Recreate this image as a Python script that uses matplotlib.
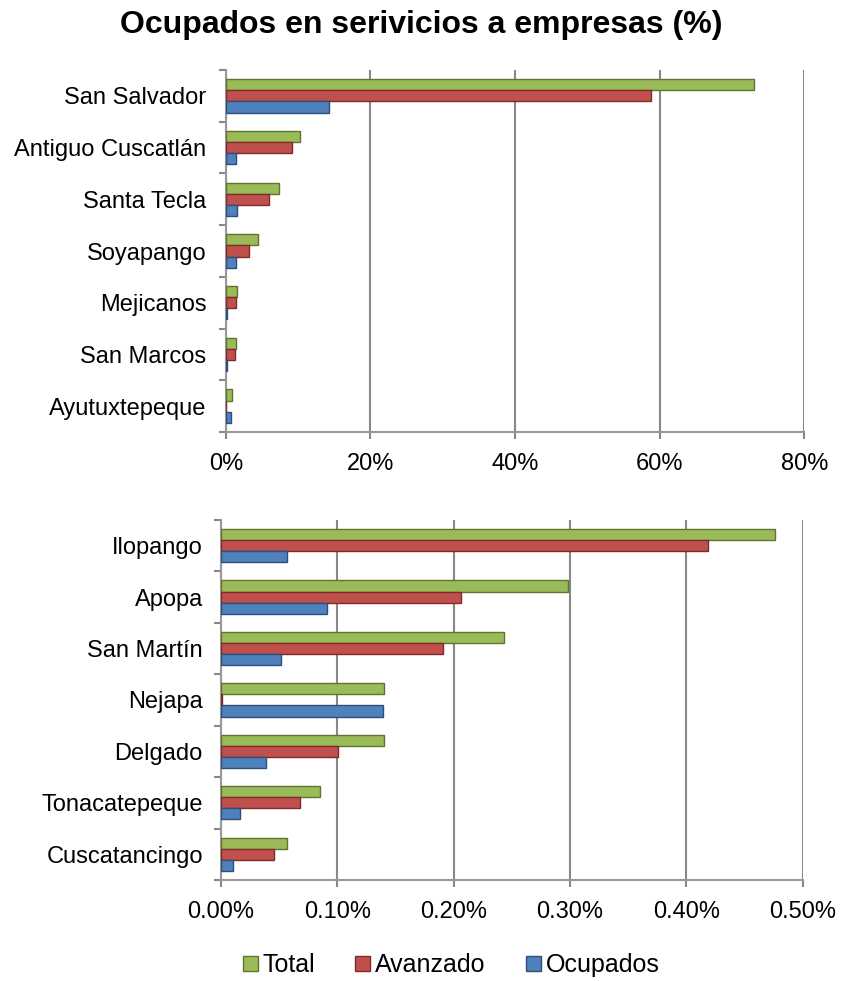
import numpy as np
import matplotlib
matplotlib.use("Agg")
import matplotlib.pyplot as plt
from matplotlib.ticker import FuncFormatter, FixedLocator

plt.rcParams["font.family"] = ["Liberation Sans", "DejaVu Sans"]

# top panel (values in %)
top_names = ["San Salvador", "Antiguo Cuscatlán", "Santa Tecla", "Soyapango",
             "Mejicanos", "San Marcos", "Ayutuxtepeque"]
top_total = [73.1, 10.3, 7.3, 4.4, 1.6, 1.35, 0.8]
top_avanzado = [58.8, 9.1, 5.9, 3.2, 1.35, 1.25, 0.0]
top_ocupados = [14.2, 1.35, 1.5, 1.35, 0.2, 0.15, 0.7]

# bottom panel (values in %)
bot_names = ["Ilopango", "Apopa", "San Martín", "Nejapa", "Delgado",
             "Tonacatepeque", "Cuscatancingo"]
bot_total = [0.476, 0.298, 0.243, 0.140, 0.140, 0.0856, 0.057]
bot_avanzado = [0.419, 0.206, 0.191, 0.001, 0.101, 0.068, 0.046]
bot_ocupados = [0.057, 0.091, 0.052, 0.139, 0.039, 0.0166, 0.0106]

series = ["Total", "Avanzado", "Ocupados"]
face = ["#9BBB59", "#C0504D", "#4F81BD"]
edge = ["#5E7530", "#7E2B29", "#2C4F7C"]


def draw_panel(ax, names, vals, xmax, step, fmt, pad):
    y = np.arange(len(names))
    h = 0.215
    offs = [-h, 0, h]
    for i, v in enumerate(vals):
        ax.barh(y + offs[i], v, height=h, color=face[i], edgecolor=edge[i],
                linewidth=1.0, label=series[i], zorder=3)
    ax.set_xlim(0, xmax)
    ax.set_ylim(len(names) - 0.5, -0.5)
    ax.set_yticks(y)
    ax.set_yticklabels(names, fontsize=17)
    ax.yaxis.set_minor_locator(FixedLocator(np.arange(-0.5, len(names), 1)))
    ax.tick_params(axis="y", which="major", length=0, pad=pad)
    ax.tick_params(axis="y", which="minor", length=5, color="#888888", width=1.5)
    ax.set_xticks(np.arange(0, xmax + step / 2, step))
    ax.xaxis.set_major_formatter(FuncFormatter(fmt))
    ax.tick_params(axis="x", labelsize=17, length=5, color="#888888", width=1.5,
                   pad=10)
    ax.grid(axis="x", color="#888888", linewidth=1.5, zorder=0)
    for s in ["top", "right"]:
        ax.spines[s].set_visible(False)
    for s in ["left", "bottom"]:
        ax.spines[s].set_color("#999999")
        ax.spines[s].set_linewidth(1.5)


fig = plt.figure(figsize=(8.43, 9.81), dpi=100)
ax1 = fig.add_axes([0.268, 0.5596, 0.686, 0.369])
ax2 = fig.add_axes([0.262, 0.103, 0.690, 0.367])

draw_panel(ax1, top_names, [top_total, top_avanzado, top_ocupados], 80, 20,
           lambda x, p: f"{x:.0f}%", 14)
draw_panel(ax2, bot_names, [bot_total, bot_avanzado, bot_ocupados], 0.5, 0.1,
           lambda x, p: f"{x:.2f}%", 13)

fig.suptitle("Ocupados en serivicios a empresas (%)", fontsize=23,
             fontweight="bold", y=0.99)

handles, labels = ax2.get_legend_handles_labels()
fig.legend(handles, labels, loc="center", bbox_to_anchor=(0.535, 0.016), ncol=3,
           frameon=False, fontsize=18, handlelength=0.6, handleheight=0.6,
           handletextpad=0.2, columnspacing=1.6)

fig.savefig("out.png", dpi=100)
